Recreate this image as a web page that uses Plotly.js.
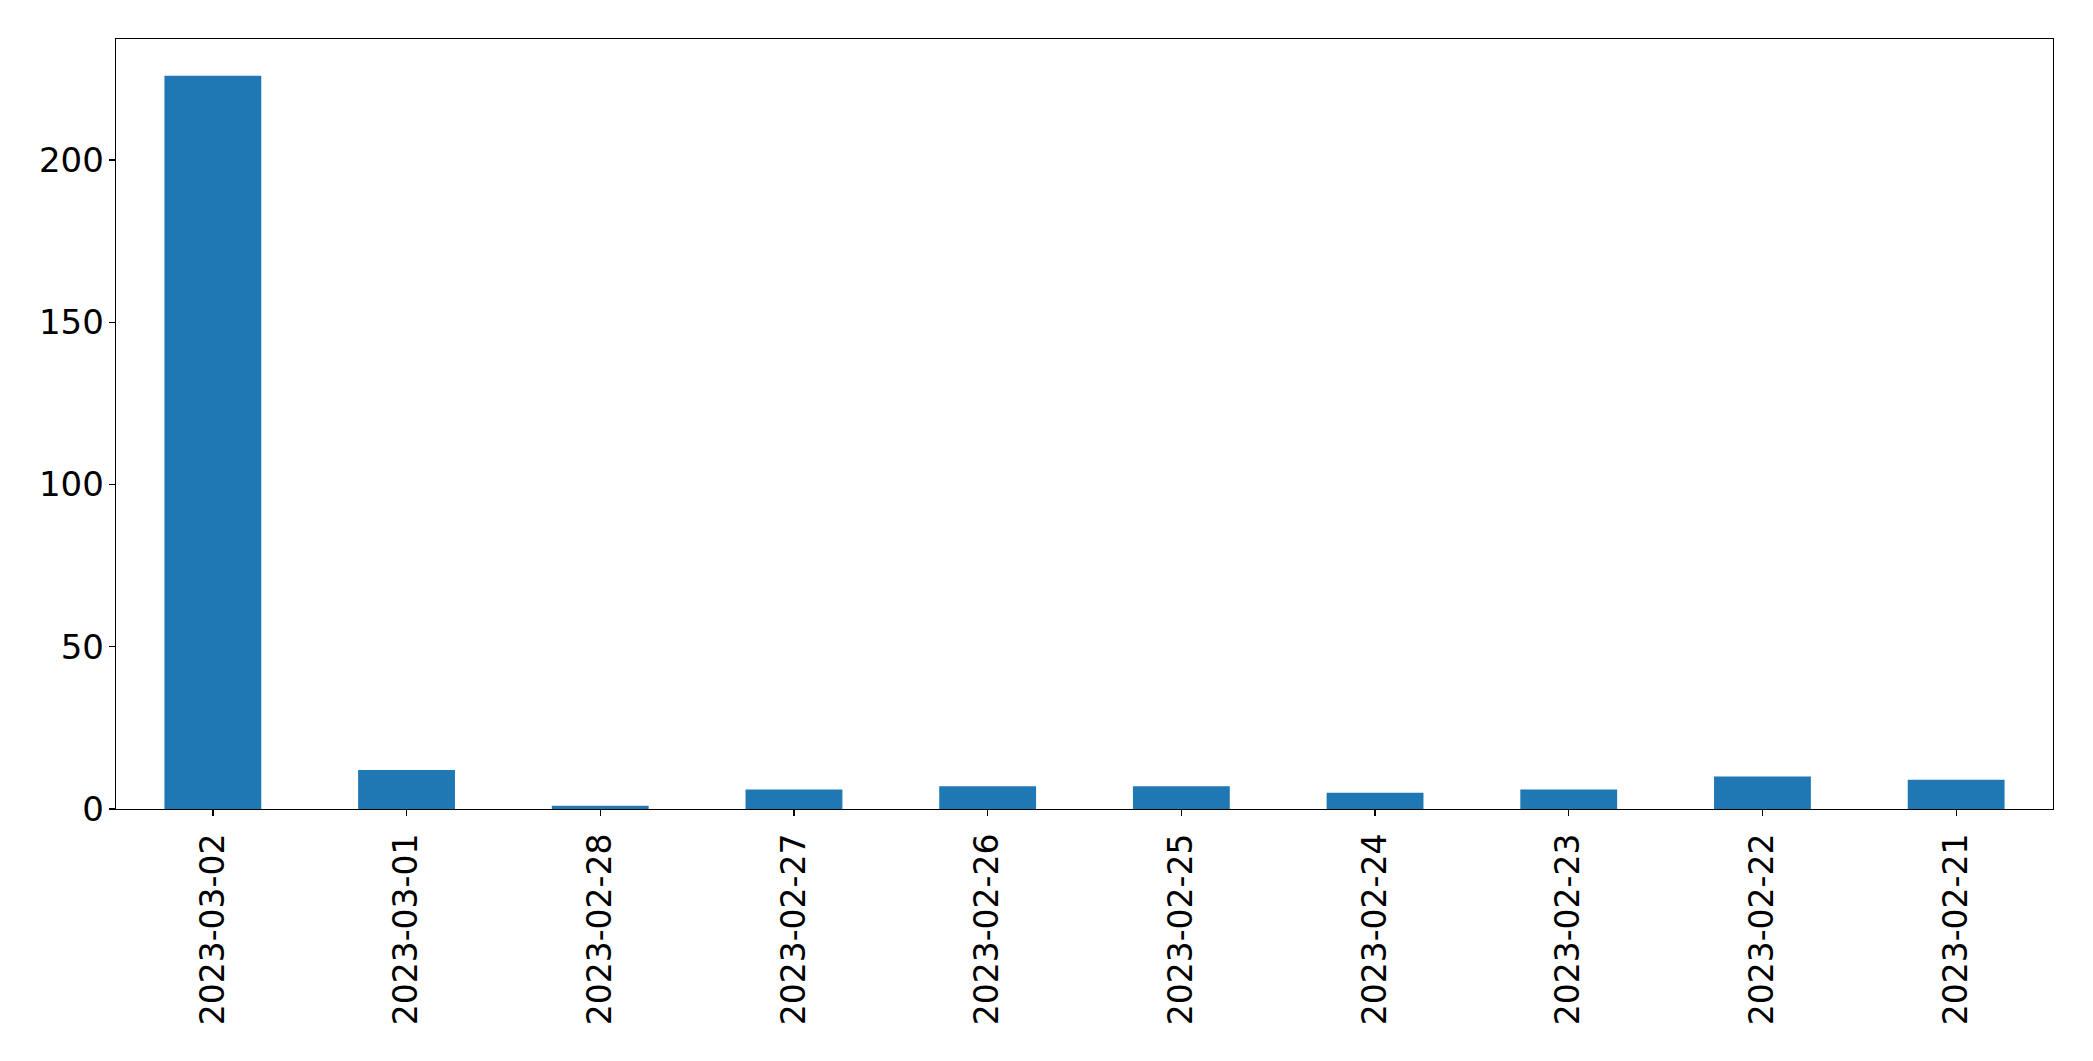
<!DOCTYPE html>
<html>
<head>
<meta charset="utf-8">
<script src="https://cdn.plot.ly/plotly-3.0.1.min.js"></script>
<style>html,body{margin:0;padding:0;background:#fff;}#chart{width:2093px;height:1061px;}</style>
</head>
<body>
<div id="chart"></div>
<script>
const categories = ["2023-03-02","2023-03-01","2023-02-28","2023-02-27","2023-02-26","2023-02-25","2023-02-24","2023-02-23","2023-02-22","2023-02-21"];
const values = [226, 12, 1, 6, 7, 7, 5, 6, 10, 9];
const yTicks = [0, 50, 100, 150, 200];

const trace = {
  type: "bar",
  x: categories,
  y: values,
  width: 0.5,
  marker: {color: "#1f77b4", line: {width: 0}},
  hoverinfo: "x+y"
};

const layout = {
  width: 2093,
  height: 1061,
  margin: {l: 116, r: 40, t: 39, b: 252, pad: 0},
  paper_bgcolor: "#fff",
  plot_bgcolor: "#fff",
  showlegend: false,
  font: {family: "DejaVu Sans", size: 33, color: "#000"},
  xaxis: {
    type: "category",
    range: [-0.5, 9.5],
    tickangle: -90,
    ticks: "outside",
    ticklen: 6,
    tickwidth: 1.3,
    tickcolor: "#000",
    showline: true,
    linecolor: "#000",
    linewidth: 1.3,
    mirror: true,
    showgrid: false,
    zeroline: false,
    tickfont: {family: "DejaVu Sans", size: 33, color: "#000"},
    ticklabelstandoff: 4
  },
  yaxis: {
    range: [0, 237.3],
    tickvals: yTicks,
    ticktext: yTicks.map(String),
    ticks: "outside",
    ticklen: 6,
    tickwidth: 1.3,
    tickcolor: "#000",
    showline: true,
    linecolor: "#000",
    linewidth: 1.3,
    mirror: true,
    showgrid: false,
    zeroline: false,
    tickfont: {family: "DejaVu Sans", size: 34, color: "#000"},
    ticklabelstandoff: -2
  }
};

Plotly.newPlot("chart", [trace], layout, {displayModeBar: false, staticPlot: true});
</script>
</body>
</html>
